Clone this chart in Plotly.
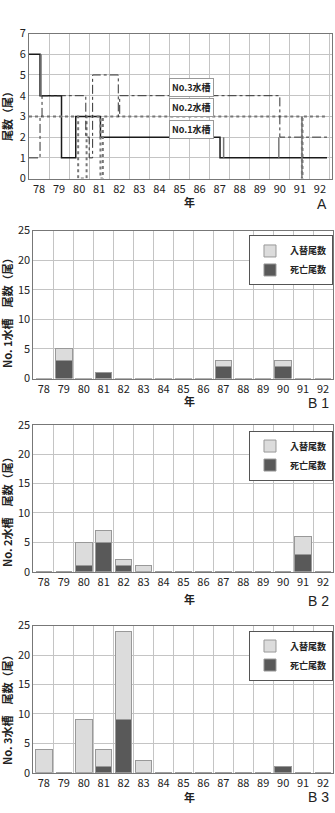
import plotly.graph_objects as go

# ---------------- data ----------------
years = list(range(78, 93))
year_labels = [str(y) for y in years]

# Panel A: fish count step lines (x = continuous year, y = count)
tank1_x = [78.0, 78.55, 79.62, 80.33, 81.56, 87.52, 92.85]
tank1_y = [6, 4, 1, 3, 2, 1, 1]
tank2_x = [78.0, 80.45, 80.87, 81.56, 81.68, 91.6, 91.63, 92.85]
tank2_y = [3, 0, 3, 0, 3, 0, 3, 3]
tank3_x = [78.0, 78.55, 78.65, 80.83, 81.0, 81.17, 82.45, 82.52, 90.5, 92.85]
tank3_y = [1, 3, 4, 2, 1, 5, 3, 4, 2, 2]
extra_x = [78.6, 78.6, None, 87.7, 87.7, None, 90.45, 90.45, None, 91.6, 91.6]
extra_y = [6, 4, None, 1, 2, None, 1, 2, None, 0, 3]

# Panels B: deaths and replacements per year
b1_death = [0, 3, 0, 1, 0, 0, 0, 0, 0, 2, 0, 0, 2, 0, 0]
b1_repl  = [0, 2, 0, 0, 0, 0, 0, 0, 0, 1, 0, 0, 1, 0, 0]
b2_death = [0, 0, 1, 5, 1, 0, 0, 0, 0, 0, 0, 0, 0, 3, 0]
b2_repl  = [0, 0, 4, 2, 1, 1, 0, 0, 0, 0, 0, 0, 0, 3, 0]
b3_death = [0, 0, 0, 1, 9, 0, 0, 0, 0, 0, 0, 0, 1, 0, 0]
b3_repl  = [4, 0, 9, 3, 15, 2, 0, 0, 0, 0, 0, 0, 0, 0, 0]

FONT = "Noto Sans CJK JP"
W, H = 335, 813

def py(px):
    return 1 - px / H

fig = go.Figure()

# Panel A traces
fig.add_trace(go.Scatter(x=tank1_x, y=tank1_y, mode="lines", line_shape="hv",
                         line=dict(color="#1a1a1a", width=1.5), showlegend=False,
                         xaxis="x", yaxis="y"))
fig.add_trace(go.Scatter(x=tank2_x, y=tank2_y, mode="lines", line_shape="hv",
                         line=dict(color="#777777", width=2, dash="dot"), showlegend=False,
                         xaxis="x", yaxis="y"))
fig.add_trace(go.Scatter(x=tank3_x, y=tank3_y, mode="lines", line_shape="hv",
                         line=dict(color="#333333", width=1, dash="dashdot"), showlegend=False,
                         xaxis="x", yaxis="y"))
fig.add_trace(go.Scatter(x=extra_x, y=extra_y, mode="lines",
                         line=dict(color="#777777", width=1.5), showlegend=False,
                         xaxis="x", yaxis="y"))

panels = [
    ("x2", "y2", "legend", b1_death, b1_repl),
    ("x3", "y3", "legend2", b2_death, b2_repl),
    ("x4", "y4", "legend3", b3_death, b3_repl),
]
for xa, ya, lg, death, repl in panels:
    fig.add_trace(go.Bar(x=years, y=death, name="死亡尾数", xaxis=xa, yaxis=ya, legend=lg,
                         width=0.83, marker=dict(color="#595959", line=dict(color="#999999", width=1))))
    fig.add_trace(go.Bar(x=years, y=repl, name="入替尾数", xaxis=xa, yaxis=ya, legend=lg,
                         width=0.83, marker=dict(color="#dcdcdc", line=dict(color="#999999", width=1))))

tickfont = dict(family=FONT, size=11, color="#222")
grid = "#c4c4c4"
frame = "#777777"

common_axis = dict(showline=True, mirror=True, linecolor=frame, linewidth=1,
                   zeroline=False, ticks="", tickfont=tickfont, fixedrange=True)

layout = dict(
    width=W, height=H, margin=dict(l=0, r=0, t=0, b=0),
    paper_bgcolor="white", plot_bgcolor="white", barmode="stack",
    font=dict(family=FONT, color="#222"),
    xaxis=dict(domain=[29 / W, 332 / W], anchor="y", range=[78, 93.1],
               tickmode="array", tickvals=[y + 0.5 for y in years], ticktext=year_labels,
               showgrid=False, minor=dict(tickvals=list(range(79, 94)), showgrid=True,
                                          gridcolor=grid, gridwidth=1),
               **common_axis),
    yaxis=dict(domain=[py(173), py(25)], anchor="x", range=[0, 7], dtick=1,
               showgrid=True, gridcolor=grid, **common_axis),
)
b_domains = [(226, 377), (424, 574), (629, 779)]
for i, (top, bot) in enumerate(b_domains):
    n = i + 2
    layout[f"xaxis{n}"] = dict(domain=[33.3 / W, 333 / W], anchor=f"y{n}", range=[77.47, 92.5],
                              tickmode="array", tickvals=years, ticktext=year_labels,
                              showgrid=False,
                              minor=dict(tickvals=[y + 0.5 for y in years[:-1]], showgrid=True,
                                         gridcolor=grid, gridwidth=1),
                              **common_axis)
    layout[f"yaxis{n}"] = dict(domain=[py(bot), py(top)], anchor=f"x{n}", range=[0, 25], dtick=5,
                              showgrid=True, gridcolor=grid, **common_axis)

leg_common = dict(x=0.994, xanchor="right", yanchor="top", bgcolor="white",
                  bordercolor="#555", borderwidth=1, traceorder="reversed",
                  font=dict(family=FONT, size=9, color="#222", weight="bold"),
                  itemwidth=30, tracegroupgap=0)
layout["legend"] = dict(y=py(231), **leg_common)
layout["legend2"] = dict(y=py(430), **leg_common)
layout["legend3"] = dict(y=py(634), **leg_common)

fig.update_layout(**layout)

ann = []
# Panel A tank labels
for txt, yv in [("No.3水槽", 4.39), ("No.2水槽", 3.42), ("No.1水槽", 2.35)]:
    ann.append(dict(x=86.1, y=yv, xref="x", yref="y", text=txt, showarrow=False,
                    xanchor="center", yanchor="middle",
                    font=dict(family=FONT, size=9, color="#222", weight="bold"), bgcolor="white",
                    bordercolor="#999", borderwidth=1, borderpad=2))
# y titles
for txt, yc in [("尾数（尾）", 107), ("No. 1水槽　尾数（尾）", 307),
                ("No. 2水槽　尾数（尾）", 510), ("No. 3水槽　尾数（尾）", 712)]:
    ann.append(dict(x=7 / W, y=py(yc), xref="paper", yref="paper", text=txt, textangle=-90,
                    xanchor="center", yanchor="middle",
                    showarrow=False, font=dict(family=FONT, size=11, color="#222", weight="bold")))
# x titles and panel letters
for yc in [197, 400, 602, 804]:
    ann.append(dict(x=189 / W, y=py(yc), xref="paper", yref="paper", text="年",
                    xanchor="center", yanchor="middle",
                    showarrow=False, font=dict(family=FONT, size=11, color="#222", weight="bold")))
for txt, xc, yc in [("A", 322, 199), ("B 1", 318, 402), ("B 2", 318, 604), ("B 3", 318, 804)]:
    ann.append(dict(x=xc / W, y=py(yc), xref="paper", yref="paper", text=txt,
                    xanchor="center", yanchor="middle",
                    showarrow=False, font=dict(family="Liberation Sans", size=14, color="#222")))
fig.update_layout(annotations=ann)

fig.write_html("out.html")
